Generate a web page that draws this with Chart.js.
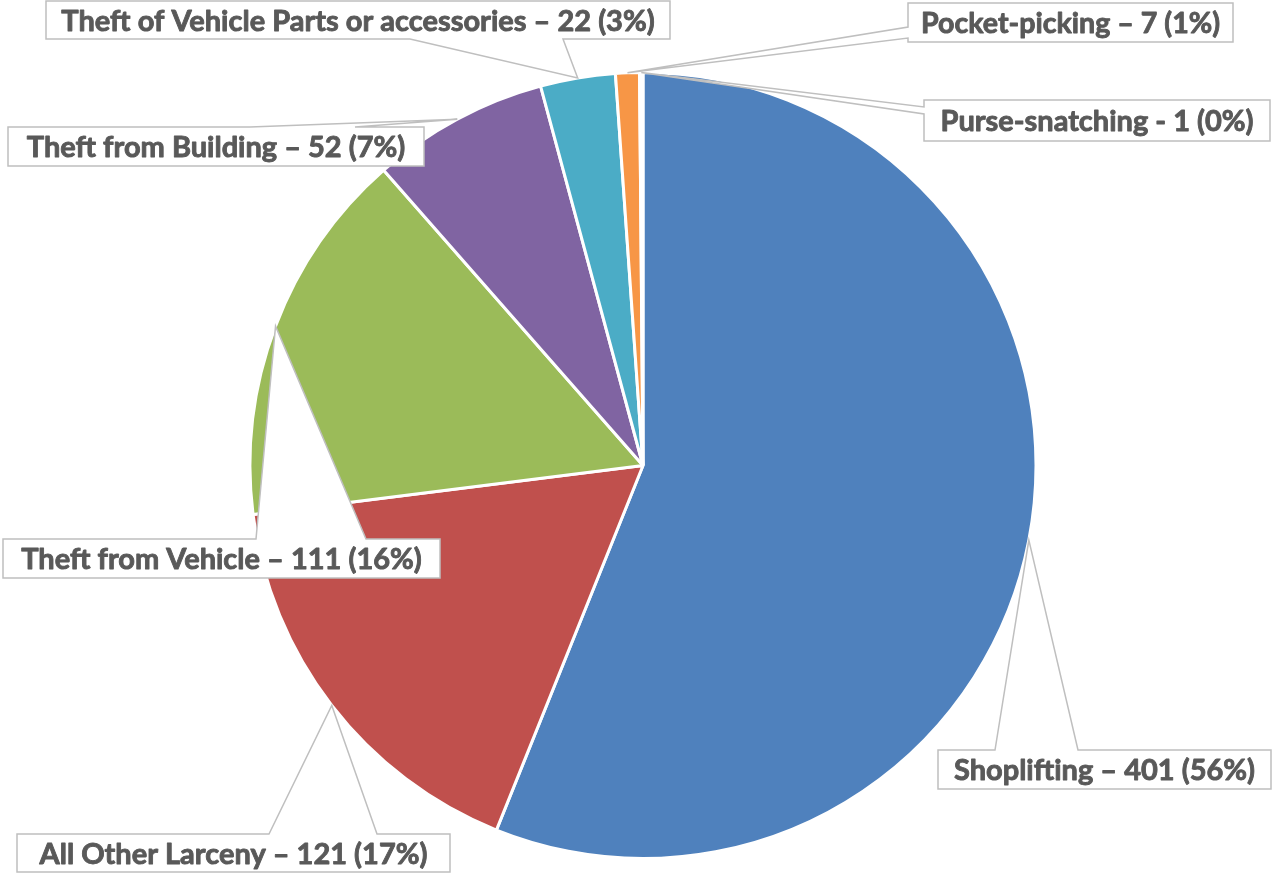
<!DOCTYPE html>
<html>
<head>
<meta charset="utf-8">
<script src="https://cdn.jsdelivr.net/npm/chart.js@4/dist/chart.umd.min.js"></script>
<style>
  html, body { margin: 0; padding: 0; background: #fff; }
  #wrap { width: 1273px; height: 873px; position: relative; }
</style>
</head>
<body>
<div id="wrap"><canvas id="chart"></canvas></div>
<script>
const categories = ["Shoplifting", "All Other Larceny", "Theft from Vehicle", "Theft from Building", "Theft of Vehicle Parts or accessories", "Pocket-picking", "Purse-snatching"]
const counts = [401, 121, 111, 52, 22, 7, 1]
const percentLabels = ["56%", "17%", "16%", "7%", "3%", "1%", "0%"]
const separators = ["–", "–", "–", "–", "–", "–", "-"]
const sliceColors = ["#4f81bd", "#c0504d", "#9bbb59", "#8064a2", "#4bacc6", "#f79646", "#ffffff"]

// callout boxes [left, top, right, bottom] and where the pointer leaves the box
const callouts = [
  { box: [938, 750, 1271, 789], base: [[995, 750], [1078, 750]] },
  { box: [17, 834, 450, 872], base: [[269, 834], [377, 834]] },
  { box: [3, 539, 440, 578], base: [[256, 539], [366, 539]] },
  { box: [8, 127, 424, 166], base: [[250, 127], [355, 127]] },
  { box: [46, 1, 670, 39], base: [[410, 39], [563, 39]] },
  { box: [908, 3, 1233, 42], base: [[908, 27], [908, 38]] },
  { box: [924, 100, 1270, 141], base: [[924, 107], [924, 114]] },
]

function calloutPath(ctx, c, tip) {
  const [l, t, r, b] = c.box
  const corners = [[l, t], [r, t], [r, b], [l, b]]
  const [p, q] = c.base
  const edge = p[1] === t && q[1] === t ? 0 : p[0] === r && q[0] === r ? 1 : p[1] === b && q[1] === b ? 2 : 3
  const start = corners[edge]
  const d = (pt) => Math.abs(pt[0] - start[0]) + Math.abs(pt[1] - start[1])
  const [first, second] = d(p) < d(q) ? [p, q] : [q, p]
  const pts = []
  for (let i = 0; i < 4; i++) {
    pts.push(corners[i])
    if (i === edge) pts.push(first, tip, second)
  }
  ctx.beginPath()
  pts.forEach((pt, i) => i ? ctx.lineTo(pt[0], pt[1]) : ctx.moveTo(pt[0], pt[1]))
  ctx.closePath()
}

const calloutPlugin = {
  id: "callouts",
  afterDatasetsDraw(chart) {
    const ctx = chart.ctx
    const arcs = chart.getDatasetMeta(0).data
    ctx.save()
    arcs.forEach((arc, i) => {
      const c = callouts[i]
      if (!c) return
      const mid = (arc.startAngle + arc.endAngle) / 2
      const tip = [arc.x + Math.cos(mid) * arc.outerRadius, arc.y + Math.sin(mid) * arc.outerRadius]
      calloutPath(ctx, c, tip)
      ctx.fillStyle = "#ffffff"
      ctx.fill()
      ctx.strokeStyle = "#bfbfbf"
      ctx.lineWidth = 1.5
      ctx.lineJoin = "miter"
      ctx.stroke()

      const text = `${categories[i]} ${separators[i]} ${counts[i]} (${percentLabels[i]})`
      const [l, t, r, b] = c.box
      ctx.font = "bold 29px Lato"
      const target = r - l - 26
      const w = ctx.measureText(text).width
      const sx = Math.min(1, target / w)
      ctx.save()
      ctx.translate((l + r) / 2, (t + b) / 2 + 10.5)
      ctx.scale(sx, 1)
      ctx.fillStyle = "#595959"
      ctx.strokeStyle = "#595959"
      ctx.lineWidth = 0.9
      ctx.lineJoin = "round"
      ctx.textAlign = "center"
      ctx.textBaseline = "alphabetic"
      ctx.fillText(text, 0, 0)
      ctx.strokeText(text, 0, 0)
      ctx.restore()
    })
    ctx.restore()
  },
}

new Chart(document.getElementById("chart"), {
  type: "pie",
  data: {
    labels: categories,
    datasets: [{
      data: counts,
      backgroundColor: sliceColors,
      borderColor: "#ffffff",
      borderWidth: 3,
    }],
  },
  options: {
    responsive: true,
    maintainAspectRatio: false,
    animation: false,
    layout: { padding: { top: 71, bottom: 13, left: 13, right: 0 } },
    plugins: { legend: { display: false }, tooltip: { enabled: false } },
  },
  plugins: [calloutPlugin],
})
</script>
</body>
</html>
